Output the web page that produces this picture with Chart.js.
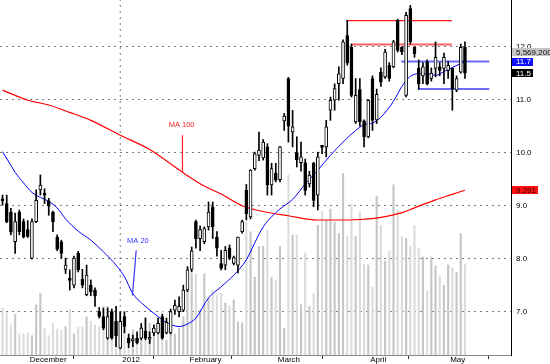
<!DOCTYPE html>
<html><head><meta charset="utf-8">
<script src="https://cdn.jsdelivr.net/npm/chart.js@4.4.1/dist/chart.umd.min.js"></script>
<style>html,body{margin:0;padding:0;background:#fff;overflow:hidden}</style>
</head><body>
<canvas id="c" width="550" height="364"></canvas>
<script>
// ---- data ----
const opens  = [9.11,9.04,8.88,8.32,8.88,8.70,8.55,8.01,8.70,9.30,9.22,9.09,8.88,8.41,8.32,7.80,7.61,7.50,8.10,7.61,7.32,7.50,7.41,7.00,6.91,6.50,7.00,6.82,6.31,6.91,6.50,6.45,6.50,6.50,6.63,6.48,6.60,6.60,6.91,6.60,6.60,7.03,7.00,7.03,7.41,7.80,8.70,8.38,8.32,8.60,8.98,8.41,7.91,7.88,8.20,7.91,7.88,8.51,9.29,8.79,9.70,9.95,9.90,10.11,9.39,9.61,9.49,10.60,11.40,10.39,10.00,9.81,9.81,9.41,9.80,9.20,10.11,10.11,10.80,10.99,11.30,11.40,12.21,11.99,10.58,11.19,10.60,10.30,11.40,10.62,11.52,11.43,11.65,11.62,12.50,11.99,11.08,12.72,11.99,11.59,11.45,11.71,11.40,11.59,11.62,11.59,11.55,11.59,11.18,11.52,11.99];
const highs  = [9.20,9.20,8.95,8.86,8.92,8.75,8.72,8.75,9.30,9.58,9.32,9.14,8.90,8.45,8.35,8.01,7.79,8.05,8.14,7.80,7.88,7.60,7.45,7.08,7.07,7.07,7.05,7.10,7.00,7.00,6.58,6.56,6.62,6.78,6.88,6.62,6.75,6.88,6.95,6.88,7.05,7.22,7.28,7.50,7.85,8.22,8.73,8.62,8.60,9.07,9.07,8.51,8.16,8.23,8.26,8.05,8.41,8.73,9.40,9.68,10.01,10.39,10.25,10.17,9.80,9.80,10.12,10.74,11.42,10.80,10.30,10.20,9.88,9.65,9.82,10.01,10.12,10.61,11.05,11.30,11.62,12.13,12.49,12.05,11.40,11.40,10.62,11.00,11.45,11.20,11.60,11.95,11.70,12.12,12.52,12.00,12.65,12.78,12.00,11.75,11.70,11.75,11.60,12.09,11.70,11.88,11.72,11.60,11.45,12.05,12.09];
const lows   = [9.01,8.68,8.45,8.10,8.45,8.39,8.40,7.99,8.68,9.20,9.04,8.82,8.51,8.15,8.01,7.72,7.41,7.45,7.75,7.45,7.30,7.30,7.10,6.88,6.66,6.48,6.48,6.34,6.30,6.60,6.32,6.34,6.39,6.47,6.47,6.40,6.55,6.58,6.48,6.58,6.58,6.95,6.90,7.00,7.38,7.75,8.20,8.15,8.28,8.54,8.38,8.05,7.79,7.79,7.98,7.88,7.73,8.48,8.73,8.75,9.67,9.85,9.86,9.20,9.20,9.45,9.45,10.42,10.20,10.11,9.73,9.65,9.20,9.35,8.98,8.92,9.98,9.92,10.61,10.80,10.99,11.30,11.65,11.05,10.55,10.50,10.11,10.28,10.42,10.55,11.25,11.40,11.35,11.60,11.90,11.85,11.05,12.05,11.80,11.20,11.30,11.28,11.35,11.43,11.45,11.30,11.40,10.80,11.15,11.50,11.40];
const closes = [9.09,8.70,8.50,8.70,8.51,8.41,8.42,8.70,9.10,9.39,9.20,8.99,8.70,8.18,8.10,7.88,7.59,8.01,7.79,7.50,7.69,7.38,7.30,6.91,6.69,6.91,6.50,6.55,6.82,6.72,6.41,6.48,6.41,6.69,6.50,6.50,6.69,6.78,6.50,6.80,7.00,7.12,7.10,7.41,7.79,8.15,8.38,8.55,8.57,8.88,8.60,8.20,7.82,8.16,8.01,8.02,8.41,8.70,8.85,9.67,9.98,10.05,10.20,9.39,9.70,9.48,10.11,10.69,10.50,10.49,9.87,9.92,9.29,9.58,9.10,9.92,10.10,10.49,10.99,11.21,11.49,12.09,11.69,11.08,11.08,10.58,10.30,10.99,10.61,11.10,11.33,11.90,11.40,12.09,11.93,11.90,12.59,12.09,11.87,11.30,11.62,11.30,11.50,11.80,11.55,11.80,11.65,11.21,11.40,11.99,11.50];
// volume, millions of shares
const volumes = [2.9,2.6,1.85,2.5,1.3,1.3,1.35,1.2,3.1,3.8,1.65,1.2,1.95,1.6,1.5,1.75,2.8,1.3,1.75,1.75,2.35,2.05,1.85,1.75,3.0,3.0,2.35,1.75,2.7,2.15,1.2,1.55,1.0,1.75,2.35,1.95,1.65,1.95,2.7,0.9,2.35,1.3,1.65,2.35,4.1,5.0,5.0,2.8,5.0,3.5,4.0,3.7,3.8,3.2,3.0,3.4,2.05,2.0,8.2,7.6,4.8,6.7,6.7,7.7,4.8,4.6,6.7,1.65,11.1,7.4,7.4,3.1,6.3,3.0,3.8,8.0,8.85,8.3,9.0,8.2,7.5,11.2,7.3,9.3,7.3,8.85,5.6,5.55,4.2,9.8,8.0,5.8,6.4,10.5,8.95,7.3,7.2,6.7,8.0,6.55,6.05,3.95,6.05,5.5,4.85,4.3,5.55,5.4,5.1,7.5,5.5692];
const ma20Idx  = [0,2,3,5,7,11,13,15,18,21,24,27,29,31,33,36,39,42,44,46,49,52,55,58,60,62,64,66,69,72,75,78,81,84,86,88,90,93,95,97,99,101,103,105,107,109,110];
const ma20Val  = [10.02,9.76,9.63,9.43,9.25,9.08,8.96,8.75,8.52,8.35,8.13,7.88,7.66,7.34,7.17,6.97,6.80,6.72,6.77,6.88,7.26,7.47,7.69,7.98,8.30,8.60,8.79,8.94,9.12,9.41,9.67,9.95,10.20,10.42,10.53,10.56,10.67,10.97,11.25,11.44,11.49,11.49,11.46,11.53,11.61,11.68,11.72];
const ma100Idx = [0,6,11,16,21,28,35,43,48,52,57,62,68,75,79,85,90,95,98,103,106,110];
const ma100Val = [11.18,10.99,10.90,10.76,10.61,10.33,10.06,9.62,9.37,9.22,9.00,8.89,8.81,8.73,8.73,8.74,8.78,8.87,8.96,9.11,9.19,9.291];
const monthTickIdx    = [6,28,44,65,87,106];
const monthTickLabels = ['December','2012','February','March','April','May'];
const yearGridIdx = [28];
const priceTicks = [7,8,9,10,11,12];
// drawn horizontal levels
const levelValues = [12.49,12.04,11.72,11.20];
const levelStart  = [81.7,82.9,94.8,98.8];
const levelEnd    = [106.9,106.9,115.8,115.8];
const levelColors = ['#ff1a1a','rgba(255,70,70,0.85)','rgba(70,70,255,0.8)','rgba(70,70,255,0.8)'];
const levelWidths = [1.2,2,2,2];
// MA captions and their pointer lines
const maLabelText  = ['MA 100','MA 20'];
const maLabelX     = [42.6,32.2];
const maLabelY     = [10.52,8.34];
const maPointerX1  = [42.8,31.8];
const maPointerY1  = [10.33,8.16];
const maPointerX2  = [42.8,30.9];
const maPointerY2  = [9.62,7.31];
const maColors     = ['#ff2020','#3535ff'];

// ---- build ----
const idx = closes.map((_, i) => i);
const up = closes.map((c, i) => c >= opens[i]);
const FONT = '"Liberation Sans", Arial, sans-serif';
const GRID = '#7a7a7a';
const Y_MIN = 6.183, Y_MAX = 12.881;

const datasets = [];
datasets.push({
  type:'bar', label:'vol', yAxisID:'yv', grouped:false, order:20,
  data: idx.map(i => ({x:i, y:volumes[i]})),
  backgroundColor: idx.map(i => up[i] ? '#c6c6c6' : '#dcdcdc'),
  barThickness: 1.5, borderWidth:0
});
// vertical dotted year separator
yearGridIdx.forEach(g=>{
  datasets.push({
    type:'line', label:'yeargrid', yAxisID:'y', order:30,
    data:[{x:g, y:Y_MIN},{x:g, y:Y_MAX}],
    borderColor:GRID, borderWidth:1, borderDash:[2,4], pointRadius:0
  });
});
datasets.push({
  type:'line', label:'ma100', yAxisID:'y', order:8,
  data: ma100Idx.map((v,k)=>({x:v, y:ma100Val[k]})),
  borderColor:'#ff0000', borderWidth:1.2, pointRadius:0, cubicInterpolationMode:'monotone'
});
datasets.push({
  type:'line', label:'ma20', yAxisID:'y', order:7,
  data: ma20Idx.map((v,k)=>({x:v, y:ma20Val[k]})),
  borderColor:'#0000ff', borderWidth:1, pointRadius:0, cubicInterpolationMode:'monotone'
});
levelValues.forEach((lv,k)=>{
  datasets.push({
    type:'line', label:'lvl'+k, yAxisID:'y', order:6,
    data:[{x:levelStart[k], y:lv},{x:levelEnd[k], y:lv}],
    borderColor:levelColors[k], borderWidth:levelWidths[k], pointRadius:0
  });
});
maLabelText.forEach((t,k)=>{
  datasets.push({
    type:'line', label:'ptr'+k, yAxisID:'y', order:6,
    data:[{x:maPointerX1[k], y:maPointerY1[k]},{x:maPointerX2[k], y:maPointerY2[k]}],
    borderColor:maColors[k], borderWidth:1.2, pointRadius:0
  });
});
datasets.push({
  type:'bar', label:'wick', yAxisID:'y', grouped:false, order:3,
  data: idx.map(i => ({x:i, y:[lows[i], highs[i]]})),
  backgroundColor:'#000', barThickness:1, borderWidth:0, minBarLength:1
});
datasets.push({
  type:'bar', label:'body', yAxisID:'y', grouped:false, order:1,
  data: idx.map(i => ({x:i, y:[opens[i], closes[i]]})),
  backgroundColor: idx.map(i => up[i] ? '#ffffff' : '#000000'),
  borderColor:'#000', borderWidth:1, borderSkipped:false, barThickness:3, minBarLength:2
});

const overlay = {
  id:'overlay',
  afterDraw(chart){
    const {ctx, scales:{x, y}, chartArea} = chart;
    ctx.save();
    ctx.textBaseline = 'middle';
    ctx.font = '7.5px ' + FONT;
    ctx.textAlign = 'center';
    maLabelText.forEach((t,k)=>{
      ctx.fillStyle = maColors[k];
      ctx.fillText(t, x.getPixelForValue(maLabelX[k]), y.getPixelForValue(maLabelY[k]));
    });
    const n = closes.length - 1;
    const tags = [
      {text: Math.round(volumes[n]*1e6).toLocaleString('en-US'), cy: y.getPixelForValue(priceTicks[priceTicks.length-1]) + 5.5, bg:'#c6c6c6', fg:'#111'},
      {text: ma20Val[ma20Val.length-1].toFixed(1), cy: y.getPixelForValue(ma20Val[ma20Val.length-1]), bg:'#1010ff', fg:'#fff'},
      {text: closes[n].toFixed(1), cy: y.getPixelForValue(closes[n]), bg:'#000', fg:'#fff'},
      {text: ma100Val[ma100Val.length-1].toFixed(3), cy: y.getPixelForValue(ma100Val[ma100Val.length-1]), bg:'#ff1010', fg:'#200'}
    ];
    ctx.font = '8px ' + FONT;
    ctx.textAlign = 'left';
    const left = chartArea.right + 1;
    tags.forEach(t=>{
      const w = ctx.measureText(t.text).width + 6;
      ctx.fillStyle = t.bg;
      ctx.fillRect(left, Math.round(t.cy) - 4, w, 8);
      ctx.fillStyle = t.fg;
      ctx.fillText(t.text, left + 4, t.cy + 0.5);
    });
    ctx.restore();
  }
};

new Chart(document.getElementById('c'), {
  type:'bar',
  data:{datasets},
  plugins:[overlay],
  options:{
    responsive:false, animation:false, devicePixelRatio:1,
    layout:{padding:0},
    plugins:{legend:{display:false}, tooltip:{enabled:false}},
    scales:{
      x:{
        type:'linear', min:-0.6, max:120.95, offset:false,
        afterBuildTicks:(s)=>{ s.ticks = monthTickIdx.map(v=>({value:v})); },
        afterFit:(s)=>{ s.height = 9; s.paddingLeft = 0; s.paddingRight = 0; },
        ticks:{
          autoSkip:false, maxRotation:0, align:'start', padding:-4, labelOffset:2,
          color:'#000', font:{family:FONT, size:8, lineHeight:1.2},
          callback:(v)=>{ const k = monthTickIdx.indexOf(v); return k>=0 ? monthTickLabels[k] : ''; }
        },
        grid:{
          drawOnChartArea:false, drawTicks:true, tickLength:4, tickColor:'#333', tickWidth:1
        },
        border:{display:true, color:'#8a8a8a', width:1}
      },
      y:{
        type:'linear', position:'right', min:Y_MIN, max:Y_MAX,
        afterBuildTicks:(s)=>{ s.ticks = priceTicks.map(v=>({value:v})); },
        afterFit:(s)=>{ s.width = 39; s.paddingTop = 0; s.paddingBottom = 0; },
        ticks:{ padding:5, color:'#000', font:{family:FONT, size:8}, callback:(v)=>Number(v).toFixed(1) },
        grid:{ color:GRID, lineWidth:1, drawTicks:false },
        border:{display:true, color:'#000', width:1, dash:[2,4]}
      },
      yv:{ type:'linear', display:false, min:0, max:21.9 }
    }
  }
});
</script>
</body></html>
